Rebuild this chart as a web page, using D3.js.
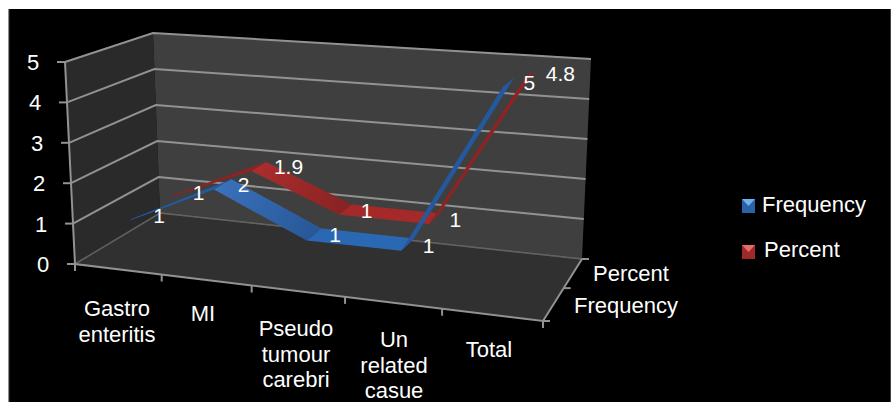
<!DOCTYPE html>
<html>
<head>
<meta charset="utf-8">
<script src="https://cdn.jsdelivr.net/npm/d3@7/dist/d3.min.js"></script>
<style>
html,body{margin:0;padding:0;background:#fff;overflow:hidden}
svg{display:block}
text{font-family:"Liberation Sans",Arial,sans-serif;fill:#fff}
</style>
</head>
<body>
<svg id="chart" width="891" height="402"></svg>
<script>
// Values
const categories = ["Gastro enteritis", "MI", "Pseudo tumour carebri", "Un related casue", "Total"];
const frequency = [1, 2, 1, 1, 5];
const percent = [1, 1.9, 1, 1, 4.8];
const seriesNames = ["Frequency", "Percent"];
const valueTicks = [0, 1, 2, 3, 4, 5];

// Line breaks for the category labels
const categoryLines = [["Gastro", "enteritis"], ["MI"], ["Pseudo", "tumour", "carebri"], ["Un", "related", "casue"], ["Total"]];

const svg = d3.select("#chart");
svg.append("rect").attr("x", 8).attr("y", 9).attr("width", 883).attr("height", 393).attr("fill", "#000");
svg.append("rect").attr("x", 8).attr("y", 9).attr("width", 1.2).attr("height", 393).attr("fill", "#8c8c8c");
svg.append("rect").attr("x", 890).attr("y", 9).attr("width", 1).attr("height", 393).attr("fill", "#444");

// Perspective box: floor and ceiling planes, each a projective map of the unit square
function quadMap(p0, p1, p2, p3) {
  const dx1 = p1[0] - p2[0], dx2 = p3[0] - p2[0], dx3 = p0[0] - p1[0] + p2[0] - p3[0];
  const dy1 = p1[1] - p2[1], dy2 = p3[1] - p2[1], dy3 = p0[1] - p1[1] + p2[1] - p3[1];
  const den = dx1 * dy2 - dx2 * dy1;
  const g = (dx3 * dy2 - dx2 * dy3) / den, h = (dx1 * dy3 - dy1 * dx3) / den;
  const a = p1[0] - p0[0] + g * p1[0], b = p3[0] - p0[0] + h * p3[0], c = p0[0];
  const d = p1[1] - p0[1] + g * p1[1], e = p3[1] - p0[1] + h * p3[1], f = p0[1];
  return (u, w) => {
    const q = g * u + h * w + 1;
    return [(a * u + b * w + c) / q, (d * u + e * w + f) / q];
  };
}
const floorMap = quadMap([75, 264], [543, 321], [582, 259], [160, 213]);
const ceilMap = quadMap([65, 62], [551, 96], [591, 59], [153, 33]);

const xBand = d3.scalePoint().domain(categories).range([0, 1]).padding(0.5);
const yScale = d3.scaleLinear().domain([0, 5]).range([0, 1]);
const project = (u, value, w) => {
  const a = floorMap(u, w), b = ceilMap(u, w), t = yScale(value);
  return [a[0] + (b[0] - a[0]) * t, a[1] + (b[1] - a[1]) * t];
};
const line = d3.line();
const gridColor = "#929292";

// Walls and floor
const wallPath = pts => line(pts) + "Z";
svg.append("path").attr("d", wallPath([project(0,0,0), project(0,5,0), project(0,5,1), project(0,0,1)])).attr("fill", "#2a2a2a");
svg.append("path").attr("d", wallPath([project(0,0,1), project(0,5,1), project(1,5,1), project(1,0,1)])).attr("fill", "#3f3f3f");
svg.append("path").attr("d", wallPath([project(0,0,0), project(0,0,1), project(1,0,1), project(1,0,0)])).attr("fill", "#303030");

// Gridlines on both walls
valueTicks.forEach(v => {
  const soft = v === 0 ? 0.55 : 1;
  svg.append("path").attr("d", line([project(0,v,0), project(0,v,1), project(1,v,1)]))
    .attr("fill", "none").attr("stroke", gridColor).attr("stroke-width", v === 0 ? 1.5 : 2).attr("opacity", soft);
});

// Axis lines and tick marks
const axisStroke = s => s.attr("fill", "none").attr("stroke", gridColor).attr("stroke-width", 2);
svg.append("path").attr("d", line([project(0,5,0), project(0,0,0), project(1,0,0), project(1,0,1)])).call(axisStroke);
valueTicks.forEach(v => {
  const p = project(0, v, 0);
  svg.append("path").attr("d", line([[p[0] - 8, p[1]], p])).call(axisStroke);
  svg.append("text").attr("x", p[0] - 32).attr("y", p[1] + 8).attr("text-anchor", "middle").attr("font-size", 22).text(v);
});
d3.range(0, 6).forEach(i => {
  const p = project(i / 5, 0, 0);
  svg.append("path").attr("d", line([p, [p[0], p[1] + 7]])).call(axisStroke);
});
[0, 0.5, 1].forEach(w => {
  const p = project(1, 0, w);
  svg.append("path").attr("d", line([p, [p[0] + 7, p[1]]])).call(axisStroke);
});

// Ribbons, rear series first
const seriesStyle = {
  Frequency: { depth: [0.14, 0.36], rise: "#2459a0", flat: "#2b68b4", fall: ["#3a72bd", "#285898"] },
  Percent:   { depth: [0.63, 0.84], rise: "#8f2222", flat: "#a42a2a", fall: ["#ad2d2d", "#8a2323"] }
};
const startTaper = 0.25;
const defs = svg.append("defs");

function drawRibbon(name, values) {
  const st = seriesStyle[name];
  const pts = values.map((v, i) => {
    const u = xBand(categories[i]);
    const back = st.depth[0] + (st.depth[1] - st.depth[0]) * (i === 0 ? startTaper : 1);
    return { front: project(u, v, st.depth[0]), back: project(u, v, back) };
  });
  d3.pairs(pts).forEach(([a, b], i) => {
    const dv = values[i + 1] - values[i];
    let fill = st.flat;
    if (dv > 0) fill = st.rise;
    if (dv < 0) {
      const id = "fall-" + name;
      defs.append("linearGradient").attr("id", id).attr("gradientUnits", "userSpaceOnUse")
        .attr("x1", a.front[0]).attr("y1", a.front[1]).attr("x2", b.front[0]).attr("y2", b.front[1])
        .selectAll("stop").data(st.fall).join("stop")
        .attr("offset", (d, k) => k).attr("stop-color", d => d);
      fill = `url(#${id})`;
    }
    svg.append("path").attr("d", wallPath([a.front, b.front, b.back, a.back])).attr("fill", fill);
  });
}
drawRibbon("Percent", percent);
drawRibbon("Frequency", frequency);

// Value labels sit just right of each vertex
function drawLabels(name, values) {
  const st = seriesStyle[name];
  values.forEach((v, i) => {
    const p = project(xBand(categories[i]), v, (st.depth[0] + st.depth[1]) / 2);
    svg.append("text").attr("x", p[0] + 15).attr("y", p[1] + 8).attr("font-size", 21).text(v);
  });
}
drawLabels("Percent", percent);
drawLabels("Frequency", frequency);

// Category labels
const catY = [316, 321, 336, 347, 357];
const catX = [117, 203, 296, 394, 489];
categoryLines.forEach((lines, i) => {
  const t = svg.append("text").attr("text-anchor", "middle").attr("font-size", 22);
  lines.forEach((s, k) => t.append("tspan").attr("x", catX[i]).attr("y", catY[i] + k * 25.6).text(s));
});

// Depth axis labels
svg.append("text").attr("x", 593).attr("y", 281).attr("font-size", 22).text("Percent");
svg.append("text").attr("x", 574).attr("y", 313).attr("font-size", 22).text("Frequency");

// Legend
const legendColors = { Frequency: ["#6fb0ee", "#2a62a8"], Percent: ["#e86a6a", "#9c2a2a"] };
seriesNames.forEach((name, i) => {
  const y = [199, 245][i], c = legendColors[name];
  svg.append("rect").attr("x", 742).attr("y", y).attr("width", 13).attr("height", 14).attr("fill", c[1]);
  svg.append("path").attr("d", line([[742, y], [755, y], [748.5, y + 7]])+"Z").attr("fill", c[0]);
  svg.append("text").attr("x", [762, 764][i]).attr("y", [212, 257][i]).attr("font-size", 22).text(name);
});
</script>
</body>
</html>
